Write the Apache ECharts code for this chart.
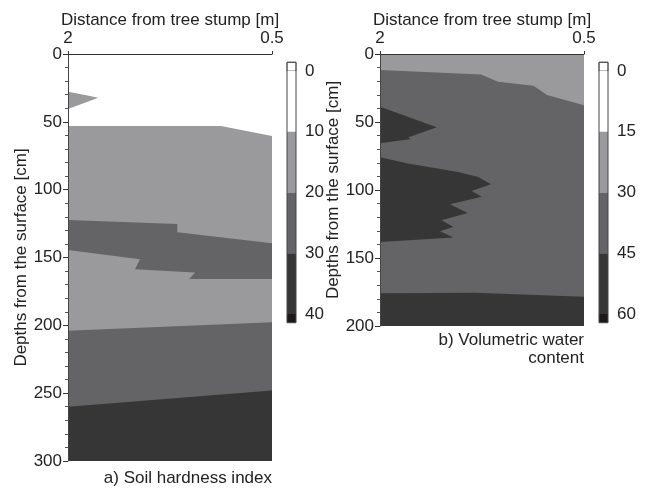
<!DOCTYPE html>
<html>
<head>
<meta charset="utf-8">
<script src="https://cdn.jsdelivr.net/npm/echarts@6/dist/echarts.min.js"></script>
<style>
  html, body { margin: 0; background: #fff; }
  #chart { width: 651px; height: 488px; }
</style>
</head>
<body>
<div id="chart"></div>
<script>
// points are [distance from stump (m), depth (cm)], read left (2 m) to right (0.5 m)
// a) soil hardness index - class boundaries
const hardB10 = [[2, 53], [0.875, 53], [0.5, 60.4]]
const hardB20a = [[2, 122.3], [1.196, 125.3], [1.196, 131.4], [0.5, 139.5]]
const hardB20b = [[2, 144.4], [1.471, 151.3], [1.507, 158.6], [1.066, 161.1], [1.108, 165.8], [0.5, 165.8]]
const hardB20c = [[2, 204], [0.5, 197.8]]
const hardB30 = [[2, 260], [0.5, 248]]
const hardPatch = [[2, 27.8], [1.875, 30.2], [1.777, 32.2], [2, 40.5]]
const hardLevels = [0, 10, 20, 30, 40]

// b) volumetric water content - class boundaries
const waterB30 = [[2, 11.8], [1.257, 15], [1.132, 20.4], [0.871, 23.3], [0.772, 30.2], [0.5, 37.6]]
const waterB45 = [[2, 176], [1.3, 175.6], [0.5, 178.5]]
const waterPatch1 = [[2, 38.7], [1.583, 53.9], [1.79, 61.2], [1.776, 62.7], [1.8, 62.9], [2, 65.7]]
const waterPatch2 = [[2, 76], [1.794, 80.5], [1.426, 86.7], [1.277, 90.4], [1.184, 95.8], [1.326, 100.8],
  [1.252, 105], [1.485, 110.4], [1.355, 116.9], [1.547, 122.3], [1.461, 127.2], [1.559, 130.4],
  [1.461, 135], [2, 138.3]]
const waterLevels = [0, 15, 30, 45, 60]

const greys = ['#ffffff', '#9a9a9c', '#646466', '#363636']
const overColor = '#1d1919'
const textColor = '#222'
const font = '"Liberation Sans", Arial, sans-serif'
const fs = 17

const chart = echarts.init(document.getElementById('chart'))

// polygon drawn in data space of grid gi
function poly(pts, color, gi) {
  return {
    type: 'custom',
    xAxisIndex: gi,
    yAxisIndex: gi,
    silent: true,
    z: 1,
    data: [pts[0]],
    renderItem: (params, api) => ({
      type: 'polygon',
      shape: { points: pts.map(p => api.coord(p)) },
      style: { fill: color }
    })
  }
}
// everything below a boundary line down to the bottom of the axis
function below(line, color, gi, maxDepth) {
  return poly(line.concat([[0.5, maxDepth], [2, maxDepth]]), color, gi)
}

// colour bar as a custom series on its own grid
function colorBar(levels, gi) {
  const lo = levels[0]
  const hi = levels[levels.length - 1]
  const ext = (hi - lo) * 0.036
  const pieces = []
  pieces.push([lo - ext, lo, greys[0], true])
  for (let i = 0; i < levels.length - 1; i++) pieces.push([levels[i], levels[i + 1], greys[i], false])
  pieces.push([hi, hi + ext, overColor, false])
  return {
    type: 'custom',
    xAxisIndex: gi,
    yAxisIndex: gi,
    silent: true,
    clip: false,
    data: pieces.map(p => [0, p[0], p[1]]),
    renderItem: (params, api) => {
      const p = pieces[params.dataIndex]
      const a = api.coord([0, p[0]])
      const b = api.coord([1, p[1]])
      const children = [{
        type: 'rect',
        shape: { x: a[0], y: a[1], width: b[0] - a[0], height: b[1] - a[1] },
        style: p[3] ? { fill: p[2], stroke: '#555', lineWidth: 0.8 } : { fill: p[2] }
      }]
      if (params.dataIndex === pieces.length - 1) {
        const t = api.coord([0, lo - ext])
        children.push({
          type: 'rect',
          shape: { x: t[0], y: t[1], width: b[0] - t[0], height: b[1] - t[1] },
          style: { fill: 'none', stroke: '#444', lineWidth: 1 }
        })
      }
      return { type: 'group', children }
    }
  }
}

function distAxis(gi) {
  return {
    gridIndex: gi,
    type: 'value',
    position: 'top',
    z: 5,
    min: 0.5,
    max: 2,
    interval: 0.5,
    inverse: true,
    name: 'Distance from tree stump [m]',
    nameLocation: 'middle',
    nameGap: 25,
    nameMoveOverlap: false,
    nameTextStyle: { fontSize: fs, color: textColor, fontFamily: font },
    axisLine: { lineStyle: { color: '#333', width: 1.2 } },
    axisTick: { length: 3, customValues: [0.5, 2], lineStyle: { color: '#333' } },
    axisLabel: {
      fontSize: fs, color: textColor, fontFamily: font, margin: 7,
      customValues: [0.5, 2],
      formatter: v => (v === 0.5 ? '0.5' : String(v))
    },
    splitLine: { show: false }
  }
}

function depthAxis(gi, max) {
  return {
    gridIndex: gi,
    type: 'value',
    z: 5,
    min: 0,
    max: max,
    interval: 50,
    inverse: true,
    name: 'Depths from the surface [cm]',
    nameLocation: 'middle',
    nameGap: 38,
    nameMoveOverlap: false,
    nameTextStyle: { fontSize: fs, color: textColor, fontFamily: font },
    axisLine: { show: true, lineStyle: { color: '#444', width: 1 } },
    axisTick: { length: 5, lineStyle: { color: '#333' } },
    minorTick: { show: true, splitNumber: 5, length: 3, lineStyle: { color: '#555' } },
    axisLabel: { fontSize: fs, color: textColor, fontFamily: font, margin: 6 },
    splitLine: { show: false },
    minorSplitLine: { show: false }
  }
}

function barAxes(gi, levels) {
  return {
    x: { gridIndex: gi, type: 'value', min: 0, max: 1, show: false },
    y: {
      gridIndex: gi,
      type: 'value',
      position: 'right',
      min: levels[0],
      max: levels[levels.length - 1],
      interval: levels[1] - levels[0],
      inverse: true,
      axisLine: { show: false },
      axisTick: { show: false },
      splitLine: { show: false },
      axisLabel: { fontSize: fs, color: textColor, fontFamily: font, margin: 9 }
    }
  }
}

const cbA = barAxes(2, hardLevels)
const cbB = barAxes(3, waterLevels)

chart.setOption({
  animation: false,
  backgroundColor: '#fff',
  textStyle: { fontFamily: font },
  grid: [
    { left: 68, top: 54, width: 204, height: 407 },
    { left: 380, top: 54, width: 204, height: 272 },
    { left: 287, top: 71, width: 9, height: 243 },
    { left: 599, top: 71, width: 9, height: 243 }
  ],
  xAxis: [distAxis(0), distAxis(1), cbA.x, cbB.x],
  yAxis: [depthAxis(0, 300), depthAxis(1, 200), cbA.y, cbB.y],
  graphic: [
    {
      type: 'text', x: 272, y: 478,
      style: { text: 'a) Soil hardness index', font: fs + 'px ' + font, fill: textColor, align: 'right', verticalAlign: 'middle' }
    },
    {
      type: 'text', x: 584, y: 331,
      style: { text: 'b) Volumetric water\ncontent', font: fs + 'px ' + font, lineHeight: 18, fill: textColor, align: 'right', verticalAlign: 'top' }
    }
  ],
  series: [
    // a) soil hardness
    below([[2, 0], [0.5, 0]], greys[0], 0, 300),
    below(hardB10, greys[1], 0, 300),
    below(hardB20a, greys[2], 0, 300),
    below(hardB20b, greys[1], 0, 300),
    below(hardB20c, greys[2], 0, 300),
    below(hardB30, greys[3], 0, 300),
    poly(hardPatch, greys[1], 0),
    // b) water content
    below([[2, 0], [0.5, 0]], greys[1], 1, 200),
    below(waterB30, greys[2], 1, 200),
    poly(waterPatch1, greys[3], 1),
    poly(waterPatch2, greys[3], 1),
    below(waterB45, greys[3], 1, 200),
    // colour bars
    colorBar(hardLevels, 2),
    colorBar(waterLevels, 3)
  ]
})
</script>
</body>
</html>
